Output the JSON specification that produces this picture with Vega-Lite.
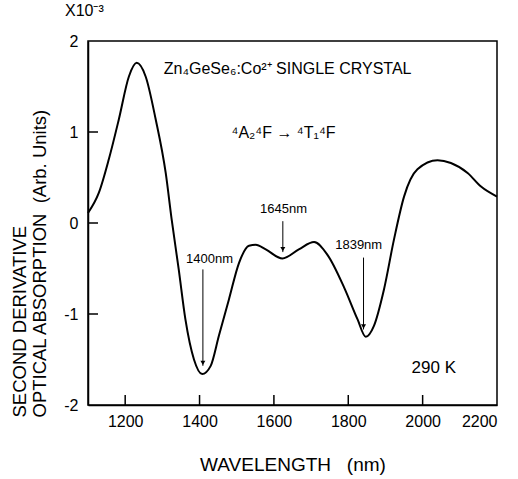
{
  "$schema": "https://vega.github.io/schema/vega-lite/v6.json",
  "width": 409,
  "height": 364,
  "autosize": {"type": "none"},
  "padding": {"left": 88, "top": 41, "right": 21, "bottom": 74},
  "background": "white",
  "title": {"text": "X10⁻³", "anchor": "start", "frame": "group", "dx": -23, "offset": 14, "fontSize": 16, "fontWeight": "normal", "font": "Liberation Sans", "color": "black"},
  "config": {
    "view": {"stroke": "black", "strokeWidth": 1.5},
    "axis": {"grid": false, "ticks": false, "domainColor": "black", "domainWidth": 1.5, "labelColor": "black", "titleColor": "black", "labelFont": "Liberation Sans", "titleFont": "Liberation Sans", "titleFontWeight": "normal"}
  },
  "datasets": {
    "curve": [
      {"wl": 1100, "v": 0.11}, {"wl": 1129, "v": 0.33}, {"wl": 1156, "v": 0.70}, {"wl": 1183, "v": 1.14},
      {"wl": 1210, "v": 1.61}, {"wl": 1231, "v": 1.76}, {"wl": 1255, "v": 1.61}, {"wl": 1282, "v": 1.14},
      {"wl": 1309, "v": 0.55}, {"wl": 1325, "v": 0.04}, {"wl": 1344, "v": -0.51}, {"wl": 1362, "v": -1.06},
      {"wl": 1385, "v": -1.50}, {"wl": 1407, "v": -1.66}, {"wl": 1430, "v": -1.57}, {"wl": 1452, "v": -1.24},
      {"wl": 1479, "v": -0.84}, {"wl": 1506, "v": -0.44}, {"wl": 1533, "v": -0.25}, {"wl": 1551, "v": -0.24},
      {"wl": 1578, "v": -0.29}, {"wl": 1623, "v": -0.39}, {"wl": 1667, "v": -0.29}, {"wl": 1708, "v": -0.21},
      {"wl": 1744, "v": -0.35}, {"wl": 1789, "v": -0.71}, {"wl": 1825, "v": -1.06}, {"wl": 1847, "v": -1.25},
      {"wl": 1869, "v": -1.13}, {"wl": 1896, "v": -0.73}, {"wl": 1923, "v": -0.18}, {"wl": 1950, "v": 0.29},
      {"wl": 1986, "v": 0.59}, {"wl": 2040, "v": 0.69}, {"wl": 2076, "v": 0.66}, {"wl": 2121, "v": 0.55},
      {"wl": 2157, "v": 0.40}, {"wl": 2200, "v": 0.29}
    ],
    "xticks": [
      {"wl": 1200, "a": -2, "b": -1.89}, {"wl": 1400, "a": -2, "b": -1.89}, {"wl": 1600, "a": -2, "b": -1.89},
      {"wl": 1800, "a": -2, "b": -1.89}, {"wl": 2000, "a": -2, "b": -1.89}
    ],
    "yticks": [
      {"v": -1, "a": 1100, "b": 1127}, {"v": 0, "a": 1100, "b": 1127}, {"v": 1, "a": 1100, "b": 1127}
    ],
    "arrows": [
      {"wl": 1409, "top": -0.51, "tip": -1.57, "label": "1400nm", "lx": 1427, "ly": -0.40},
      {"wl": 1624, "top": 0.02, "tip": -0.32, "label": "1645nm", "lx": 1626, "ly": 0.15},
      {"wl": 1841, "top": -0.38, "tip": -1.17, "label": "1839nm", "lx": 1828, "ly": -0.24}
    ],
    "notes": [
      {"t": "Zn₄GeSe₆:Co²⁺ SINGLE CRYSTAL", "x": 1637, "y": 1.69, "s": 16, "w": "normal"},
      {"t": "⁴A₂⁴F → ⁴T₁⁴F", "x": 1626, "y": 0.99, "s": 16, "w": "normal"},
      {"t": "290 K", "x": 2030, "y": -1.59, "s": 17, "w": "bold"}
    ]
  },
  "layer": [
    {
      "data": {"name": "curve"},
      "mark": {"type": "line", "color": "black", "strokeWidth": 2, "interpolate": "monotone"},
      "encoding": {
        "x": {"field": "wl", "type": "quantitative", "scale": {"domain": [1100, 2200], "nice": false},
          "axis": {"values": [1200, 1400, 1600, 1800, 2000, 2200], "format": "d", "labelPadding": 8, "labelFontSize": 16, "title": "WAVELENGTH\u00a0\u00a0\u00a0(nm)", "titleFontSize": 19, "titlePadding": 26}},
        "y": {"field": "v", "type": "quantitative", "scale": {"domain": [-2, 2], "nice": false},
          "axis": {"values": [-2, -1, 0, 1, 2], "format": "d", "labelPadding": 10, "labelFontSize": 16,
            "labelExpr": "replace(datum.label, '−', '-')",
            "title": ["SECOND DERIVATIVE", "OPTICAL ABSORPTION\u00a0\u00a0(Arb. Units)"], "titleFontSize": 18.5, "titleLineHeight": 20, "titleAnchor": "start", "titleY": 376, "titlePadding": 14}}
      }
    },
    {
      "data": {"name": "xticks"},
      "mark": {"type": "rule", "color": "black", "strokeWidth": 1.5},
      "encoding": {"x": {"field": "wl", "type": "quantitative"}, "y": {"field": "a", "type": "quantitative"}, "y2": {"field": "b"}}
    },
    {
      "data": {"name": "yticks"},
      "mark": {"type": "rule", "color": "black", "strokeWidth": 1.5},
      "encoding": {"y": {"field": "v", "type": "quantitative"}, "x": {"field": "a", "type": "quantitative"}, "x2": {"field": "b"}}
    },
    {
      "data": {"name": "arrows"},
      "mark": {"type": "rule", "color": "black", "strokeWidth": 1},
      "encoding": {"x": {"field": "wl", "type": "quantitative"}, "y": {"field": "top", "type": "quantitative"}, "y2": {"field": "tip"}}
    },
    {
      "data": {"name": "arrows"},
      "mark": {"type": "point", "shape": "triangle-down", "filled": true, "color": "black", "size": 25, "opacity": 1, "yOffset": -3},
      "encoding": {"x": {"field": "wl", "type": "quantitative"}, "y": {"field": "tip", "type": "quantitative"}}
    },
    {
      "data": {"name": "arrows"},
      "mark": {"type": "text", "font": "Liberation Sans", "fontSize": 13, "color": "black", "letterSpacing": -0.5},
      "encoding": {"x": {"field": "lx", "type": "quantitative"}, "y": {"field": "ly", "type": "quantitative"}, "text": {"field": "label"}}
    },
    {
      "data": {"name": "notes"},
      "mark": {"type": "text", "font": "Liberation Sans", "color": "black"},
      "encoding": {"x": {"field": "x", "type": "quantitative"}, "y": {"field": "y", "type": "quantitative"}, "text": {"field": "t"},
        "size": {"field": "s", "type": "quantitative", "scale": null},
        "fontWeight": {"field": "w", "type": "nominal", "scale": null}}
    }
  ]
}
